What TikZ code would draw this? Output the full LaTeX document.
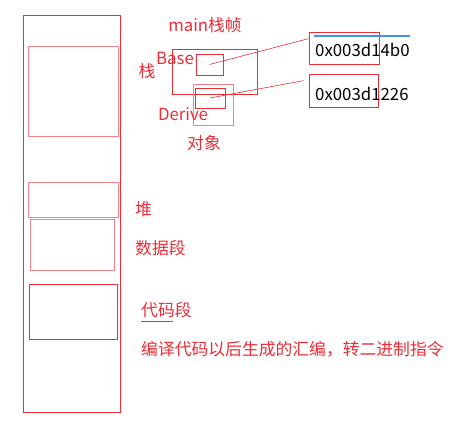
\documentclass[tikz,border=0pt]{standalone}
\usepackage{fontspec}
\setmainfont{Noto Sans CJK SC}
\definecolor{memred}{RGB}{235,45,55}
\definecolor{pinkred}{RGB}{248,130,140}
\definecolor{addrblue}{RGB}{70,145,230}
\tikzset{blk/.style={draw=memred, line width=0.8pt, inner sep=0pt},
	pale/.style={draw=pinkred},
	lbl/.style={text=memred, inner sep=0pt, font=\fontsize{16.8}{20}\selectfont}}
\begin{document}
\begin{tikzpicture}[x=1pt,y=-1pt]
\useasboundingbox (0,0) rectangle (466,426);
% memory column
\node[blk, minimum width=97pt, minimum height=397pt](mem) at (71.5,213.5) {};
\node[blk, pale, minimum width=90pt, minimum height=90pt](stack) at (73,91) {};
\node[blk, pale, minimum width=90pt, minimum height=35pt](heap) at (73,199.5) {};
\node[blk, pale, minimum width=84pt, minimum height=51pt](data) at (72,244.5) {};
\node[blk, minimum width=88pt, minimum height=55pt](code) at (73,311.5) {};
% main frame and objects
\node[blk, minimum width=85pt, minimum height=45pt](frame) at (214.5,71.5) {};
\node[blk, minimum width=27pt, minimum height=21pt](baseobj) at (209.5,64.5) {};
\node[blk, pale, minimum width=40pt, minimum height=41pt](deriveout) at (213,104.5) {};
\node[blk, minimum width=30pt, minimum height=20pt](derivein) at (210,98) {};
% addresses
\node[blk, minimum width=70pt, minimum height=32pt](addrA) at (344,48) {};
\node[blk, minimum width=69pt, minimum height=33pt](addrB) at (343.5,90.5) {};
\draw[addrblue, line width=1.2pt] (314,36) -- (410,36);
\node[lbl, text=black, anchor=west] at (315,50) {0x003d14b0};
\node[lbl, text=black, anchor=west] at (315,94) {0x003d1226};
\draw[memred, line width=0.6pt] (baseobj.center) -- ([yshift=-7pt]addrA.north west);
\draw[memred, line width=0.6pt] (derivein.center) -- ([xshift=-5pt,yshift=-7pt]addrB.north west);
% labels
\node[lbl] at (205,25) {main栈帧};
\node[lbl] at (147,71) {栈};
\node[lbl] at (175,58) {Base};
\node[lbl] at (183,114) {Derive};
\node[lbl] at (204,143) {对象};
\node[lbl, anchor=west] at (135,209) {堆};
\node[lbl, anchor=west] at (135,248) {数据段};
\node[lbl, anchor=west] at (141,310) {代码段};
\draw[memred, line width=0.5pt] (141,321) -- (173,321);
\node[lbl, anchor=west] at (141,349) {编译代码以后生成的汇编，转二进制指令};
\end{tikzpicture}
\end{document}
